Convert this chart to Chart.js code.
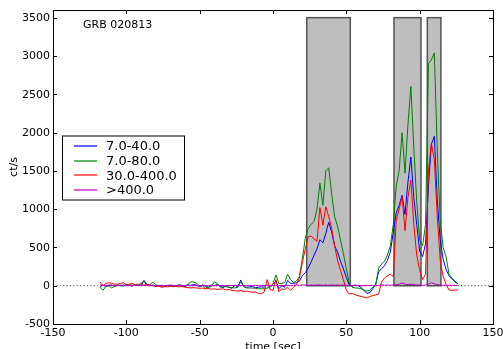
<!DOCTYPE html>
<html>
<head>
<meta charset="utf-8">
<script src="https://cdn.jsdelivr.net/npm/chart.js@4.4.0/dist/chart.umd.min.js"></script>
<style>
html, body { margin: 0; padding: 0; background: #fff; }
</style>
</head>
<body>
<canvas id="myChart" width="503" height="349"></canvas>
<script>
// time bins [sec]
const times = [
  -118,-116,-114,-112,-110,-108,-106,-104,-102,-100,
  -98,-96,-94,-92,-90,-88,-86,-84,-82,-80,
  -78,-76,-74,-72,-70,-68,-66,-64,-62,-60,
  -58,-56,-54,-52,-50,-48,-46,-44,-42,-40,
  -38,-36,-34,-32,-30,-28,-26,-24,-22,-20,
  -18,-16,-14,-12,-10,-8,-6,-4,-2,0,
  2,4,6,8,10,12,14,16,18,20,
  22,24,26,28,30,32,34,36,38,40,
  42,44,46,48,50,52,54,56,58,60,
  62,64,66,68,70,72,74,76,78,80,
  82,84,86,88,90,92,94,96,98,100,
  102,104,106,108,110,112,114,116,118,120,
  122,124,126
];

const band_7_40 = [
  -20,10,-10,0,10,-10,5,0,10,0,
  5,-5,15,0,10,70,20,0,10,-10,
  0,5,-15,0,10,0,-10,10,5,-10,
  10,5,15,5,-15,10,-5,-20,5,0,
  15,-10,-25,0,-20,-35,10,-20,75,-10,
  -20,-15,-10,-25,-20,-15,-20,10,-20,20,
  60,-40,0,-20,70,30,30,40,60,130,
  170,230,310,400,480,600,560,680,830,700,
  520,440,320,220,110,10,-10,10,0,-20,
  -60,-100,-90,-40,20,180,220,260,330,440,
  700,950,1050,1180,930,1350,1680,1150,800,450,
  380,550,1300,1850,1950,1120,600,350,210,130,
  90,50,25
];

const band_7_80 = [
  -20,-60,-10,0,-30,-10,10,0,-5,20,
  0,30,10,20,0,60,0,10,50,10,
  0,-15,-10,0,-5,-15,0,10,-5,0,
  20,50,50,30,-10,0,-30,-20,-10,50,
  30,-20,-5,-15,-20,-25,-30,-20,50,-10,
  -30,-30,-30,-35,-40,-40,-40,-30,-20,30,
  140,30,30,40,150,80,40,60,120,350,
  620,750,800,840,1000,1340,1050,1500,1540,1200,
  900,780,600,420,220,30,-20,-30,-30,-40,
  -60,-70,-60,-20,0,230,280,320,400,520,
  800,1300,1500,2000,1470,2100,2600,1800,1100,600,
  520,800,2900,2950,3040,1770,850,500,380,150,
  100,60,25
];

const band_30_400 = [
  50,0,30,40,30,20,20,30,40,10,
  20,30,10,0,40,0,20,10,0,-10,
  -5,-20,-10,-15,-10,-5,-10,-15,-10,-20,
  -25,-30,-25,-30,-35,-30,-40,-35,-45,-40,
  -50,-45,-40,-55,-50,-60,-65,-70,-65,-75,
  -70,-80,-85,-80,-100,-105,-80,80,-50,-60,
  80,-80,-40,-50,-20,-60,-20,20,100,300,
  480,640,650,610,580,1020,790,1030,900,750,
  520,330,200,80,-60,-110,-100,-120,-130,-140,
  -150,-160,-140,-130,-120,-110,50,100,130,150,
  120,850,1000,1160,720,1150,1380,800,400,200,
  80,150,1500,1860,1640,900,340,120,20,-56,
  -60,-56,-56
];

const band_400 = [
  10,5,0,10,5,0,5,10,0,5,
  5,0,10,5,0,10,5,0,5,0,
  5,0,0,5,0,5,0,5,0,0,
  5,0,0,5,0,5,0,0,5,0,
  0,5,0,0,5,0,0,5,0,5,
  0,5,0,5,0,0,5,0,5,0,
  5,0,5,0,5,0,5,10,5,10,
  10,5,10,5,10,10,5,10,5,10,
  5,10,5,10,5,0,5,0,5,0,
  0,5,0,5,0,5,10,5,10,5,
  10,15,20,35,20,15,20,15,10,10,
  5,10,20,40,25,15,10,5,5,5,
  5,5,5
];

const seriesLabels = ['7.0-40.0', '7.0-80.0', '30.0-400.0', '>400.0'];
const seriesColors = ['#0000ff', '#008000', '#ff0000', '#bf00bf'];

// shaded intervals
const spanStart = [23, 82.5, 105.2];
const spanEnd = [52.7, 100.9, 114.5];
const spanTop = 3500;

const xTicks = [-150, -100, -50, 0, 50, 100, 150];
const yTicks = [-500, 0, 500, 1000, 1500, 2000, 2500, 3000, 3500];

const pts = (ys) => times.map((t, i) => ({x: t, y: ys[i]}));
const allSeries = [band_7_40, band_7_80, band_30_400, band_400];

const datasets = allSeries.map((ys, i) => ({
  label: seriesLabels[i],
  data: pts(ys),
  borderColor: seriesColors[i],
  borderWidth: 1,
  pointRadius: 0,
  order: 4 - i,
}));
datasets.push({
  label: 'zero',
  data: [{x: -150, y: 0}, {x: 150, y: 0}],
  borderColor: '#333',
  borderWidth: 1,
  borderDash: [1, 2.4],
  pointRadius: 0,
  order: 10,
});

const framePlugin = {
  id: 'framePlugin',
  beforeDatasetsDraw(chart) {
    const {ctx, scales: {x, y}} = chart;
    ctx.save();
    ctx.fillStyle = '#bebebe';
    ctx.strokeStyle = '#555';
    ctx.lineWidth = 1.5;
    for (let i = 0; i < spanStart.length; i++) {
      const x0 = x.getPixelForValue(spanStart[i]);
      const x1 = x.getPixelForValue(spanEnd[i]);
      const y0 = y.getPixelForValue(spanTop);
      const y1 = y.getPixelForValue(0);
      ctx.fillRect(x0, y0, x1 - x0, y1 - y0);
      ctx.strokeRect(x0, y0, x1 - x0, y1 - y0);
    }
    ctx.restore();
  },
  afterDatasetsDraw(chart) {
    const {ctx, chartArea: a, scales: {x, y}} = chart;
    ctx.save();
    ctx.strokeStyle = '#000';
    ctx.lineWidth = 1;
    ctx.strokeRect(Math.round(a.left) + 0.5, Math.round(a.top) + 0.5,
      Math.round(a.right - a.left), Math.round(a.bottom - a.top));
    ctx.beginPath();
    xTicks.forEach(v => {
      const px = Math.round(x.getPixelForValue(v)) + 0.5;
      ctx.moveTo(px, a.bottom); ctx.lineTo(px, a.bottom - 4);
      ctx.moveTo(px, a.top); ctx.lineTo(px, a.top + 4);
    });
    yTicks.forEach(v => {
      const py = Math.round(y.getPixelForValue(v)) + 0.5;
      ctx.moveTo(a.left, py); ctx.lineTo(a.left + 4, py);
      ctx.moveTo(a.right, py); ctx.lineTo(a.right - 4, py);
    });
    ctx.stroke();

    // tick labels
    ctx.fillStyle = '#000';
    ctx.font = '11px "DejaVu Sans"';
    ctx.textBaseline = 'middle';
    ctx.textAlign = 'center';
    xTicks.forEach(v => ctx.fillText(String(v), x.getPixelForValue(v), 333.5));
    ctx.textAlign = 'right';
    yTicks.forEach(v => ctx.fillText(String(v), a.left - 3, y.getPixelForValue(v) + 0.5));

    // legend
    const lx = 62, ly = 135.5, lw = 122, lh = 64;
    ctx.fillStyle = '#fff';
    ctx.fillRect(lx, ly, lw, lh);
    ctx.strokeStyle = '#000';
    ctx.strokeRect(lx + 0.5, ly + 0.5, lw, lh);
    ctx.font = '13px "DejaVu Sans"';
    ctx.textBaseline = 'middle';
    ctx.textAlign = 'left';
    seriesLabels.forEach((lab, i) => {
      const cy = 146 + i * 14.6;
      ctx.strokeStyle = seriesColors[i];
      ctx.lineWidth = 1.2;
      ctx.beginPath();
      ctx.moveTo(74, Math.round(cy));
      ctx.lineTo(97, Math.round(cy));
      ctx.stroke();
      ctx.fillStyle = '#000';
      ctx.fillText(lab, 106, cy + 1);
    });

    // texts
    ctx.font = '11px "DejaVu Sans"';
    ctx.textBaseline = 'alphabetic';
    ctx.fillText('GRB 020813', 83, 28);
    ctx.textAlign = 'center';
    ctx.fillText('time [sec]', 273, 350);
    ctx.translate(17, 167);
    ctx.rotate(-Math.PI / 2);
    ctx.fillText('ct/s', 0, 0);
    ctx.restore();
  }
};

const config = {
  type: 'line',
  data: {datasets: datasets},
  options: {
    responsive: false,
    animation: false,
    layout: {padding: {top: 10, right: 10, left: 0, bottom: 0}},
    plugins: {legend: {display: false}, tooltip: {enabled: false}},
    scales: {
      x: {
        type: 'linear', min: -150, max: 150,
        grid: {display: false}, border: {display: false},
        ticks: {display: false},
        afterFit: s => { s.height = 25; }
      },
      y: {
        type: 'linear', min: -500, max: 3600,
        grid: {display: false}, border: {display: false},
        ticks: {display: false},
        afterFit: s => { s.width = 53; }
      }
    }
  },
  plugins: [framePlugin]
};

const myChart = new Chart(document.getElementById('myChart'), config);
</script>
</body>
</html>
